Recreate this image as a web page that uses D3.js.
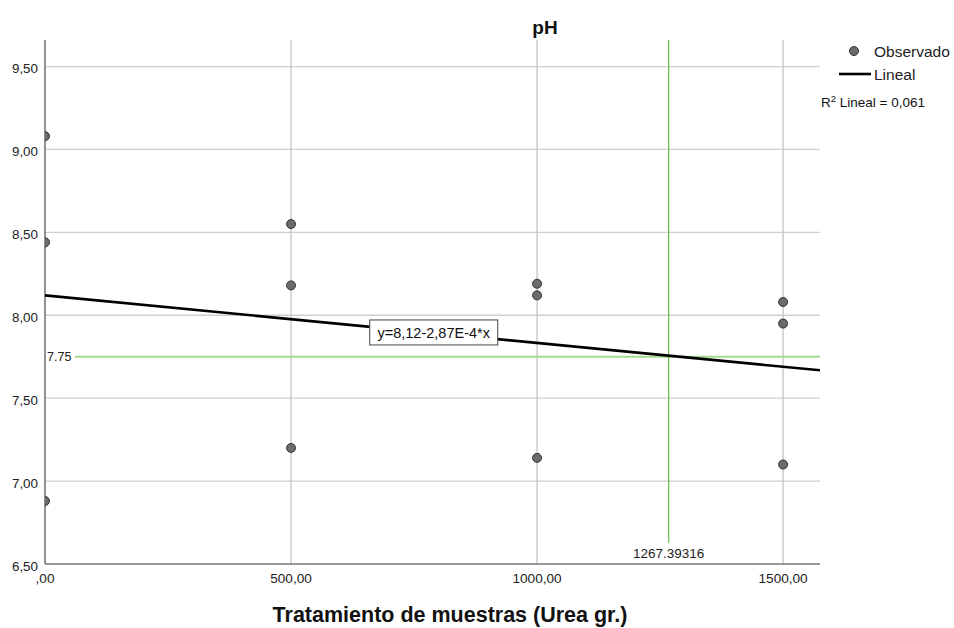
<!DOCTYPE html>
<html><head><meta charset="utf-8">
<script src="https://cdn.jsdelivr.net/npm/d3@7/dist/d3.min.js"></script>
<style>body{margin:0;background:#fff;font-family:"Liberation Sans",Arial,sans-serif;}</style>
</head><body><svg id="c" width="954" height="628"></svg>
<script>
const xObs = [0,0,0,500,500,500,1000,1000,1000,1500,1500,1500];
const yObs = [9.08,8.44,6.88,8.55,8.18,7.20,8.19,8.12,7.14,8.08,7.95,7.10];
const xTicks = [0,500,1000,1500];
const xTickLabels = [",00","500,00","1000,00","1500,00"];
const yTicks = [6.5,7.0,7.5,8.0,8.5,9.0,9.5];
const yTickLabels = ["6,50","7,00","7,50","8,00","8,50","9,00","9,50"];
const fitIntercept = 8.12, fitSlope = -2.87e-4;
const refY = 7.75, refX = 1267.39316;
const eqText = "y=8,12-2,87E-4*x";
const r2Text = "0,061";

const svg = d3.select("#c");
const L=45,R=820,T=40,B=564;
const x = d3.scaleLinear().domain([0,1575]).range([L,R]);
const y = d3.scaleLinear().domain([6.5,9.66]).range([B,T]);

svg.append("defs").append("clipPath").attr("id","clip").append("rect")
  .attr("x",L).attr("y",T).attr("width",R-L).attr("height",B-T);

// grid
svg.append("g").selectAll("line").data(yTicks.slice(1)).join("line")
  .attr("x1",L).attr("x2",R).attr("y1",d=>y(d)).attr("y2",d=>y(d))
  .attr("stroke","#cfcfcf").attr("stroke-width",1.3);
svg.append("g").selectAll("line").data(xTicks.slice(1)).join("line")
  .attr("x1",d=>x(d)).attr("x2",d=>x(d)).attr("y1",T).attr("y2",B)
  .attr("stroke","#c4c4c4").attr("stroke-width",1.3);

// reference lines
svg.append("line").attr("x1",75).attr("x2",R).attr("y1",y(refY)).attr("y2",y(refY))
  .attr("stroke","#a4da8e").attr("stroke-width",2);
svg.append("text").attr("x",L+2).attr("y",y(refY)).attr("dy","0.35em")
  .attr("font-size",12.5).attr("fill","#222").text("7.75");
svg.append("line").attr("x1",x(refX)).attr("x2",x(refX)).attr("y1",T).attr("y2",543)
  .attr("stroke","#66bb47").attr("stroke-width",1.2);
svg.append("text").attr("x",x(refX)).attr("y",558).attr("text-anchor","middle")
  .attr("font-size",13.5).attr("fill","#222").text(refX.toFixed(5));

// axes
svg.append("line").attr("x1",L).attr("x2",L).attr("y1",T).attr("y2",B).attr("stroke","#777").attr("stroke-width",1.6);
svg.append("line").attr("x1",L).attr("x2",R).attr("y1",B).attr("y2",B).attr("stroke","#777").attr("stroke-width",1.6);

svg.append("g").selectAll("text").data(yTicks).join("text")
  .attr("x",38).attr("y",d=>y(d)+2).attr("dy","0.35em").attr("text-anchor","end")
  .attr("font-size",13.4).attr("fill","#222").text((d,i)=>yTickLabels[i]);
svg.append("g").selectAll("text").data(xTicks).join("text")
  .attr("x",d=>x(d)).attr("y",583).attr("text-anchor","middle")
  .attr("font-size",13.6).attr("fill","#222").text((d,i)=>xTickLabels[i]);

// fit line
const xd = x.domain();
svg.append("line").attr("clip-path","url(#clip)")
  .attr("x1",x(xd[0])).attr("y1",y(fitIntercept+fitSlope*xd[0]))
  .attr("x2",x(xd[1])).attr("y2",y(fitIntercept+fitSlope*xd[1]))
  .attr("stroke","#000").attr("stroke-width",2.6);

// points
svg.append("g").attr("clip-path","url(#clip)").selectAll("circle").data(xObs).join("circle")
  .attr("cx",d=>x(d)).attr("cy",(d,i)=>y(yObs[i])).attr("r",4.5)
  .attr("fill","#6b6b6b").attr("stroke","#333").attr("stroke-width",1);

// equation label
const ex = 790, ey = fitIntercept+fitSlope*ex;
const eg = svg.append("g");
eg.append("rect").attr("x",x(ex)-64).attr("y",y(ey)-13).attr("width",128).attr("height",25)
  .attr("fill","#fff").attr("stroke","#444").attr("stroke-width",1);
eg.append("text").attr("x",x(ex)).attr("y",y(ey)).attr("dy","0.35em").attr("text-anchor","middle")
  .attr("font-size",14.5).attr("fill","#111").text(eqText);

// title
svg.append("text").attr("x",545).attr("y",34).attr("text-anchor","middle")
  .attr("font-size",19).attr("font-weight","bold").attr("fill","#111").text("pH");
svg.append("text").attr("x",450).attr("y",622).attr("text-anchor","middle")
  .attr("font-size",21.5).attr("font-weight","bold").attr("fill","#111").text("Tratamiento de muestras (Urea gr.)");

// legend
svg.append("circle").attr("cx",854).attr("cy",51).attr("r",4.5).attr("fill","#6b6b6b").attr("stroke","#333");
svg.append("text").attr("x",874).attr("y",57).attr("font-size",15.5).attr("fill","#222").text("Observado");
svg.append("line").attr("x1",839).attr("x2",871).attr("y1",74).attr("y2",74).attr("stroke","#000").attr("stroke-width",2.6);
svg.append("text").attr("x",874).attr("y",80).attr("font-size",15.5).attr("fill","#222").text("Lineal");
const rt = svg.append("text").attr("x",821).attr("y",107).attr("font-size",13.5).attr("fill","#111");
rt.append("tspan").text("R");
rt.append("tspan").attr("font-size",9.5).attr("dy",-5).text("2");
rt.append("tspan").attr("dy",5).text(" Lineal = " + r2Text);
</script></body></html>
